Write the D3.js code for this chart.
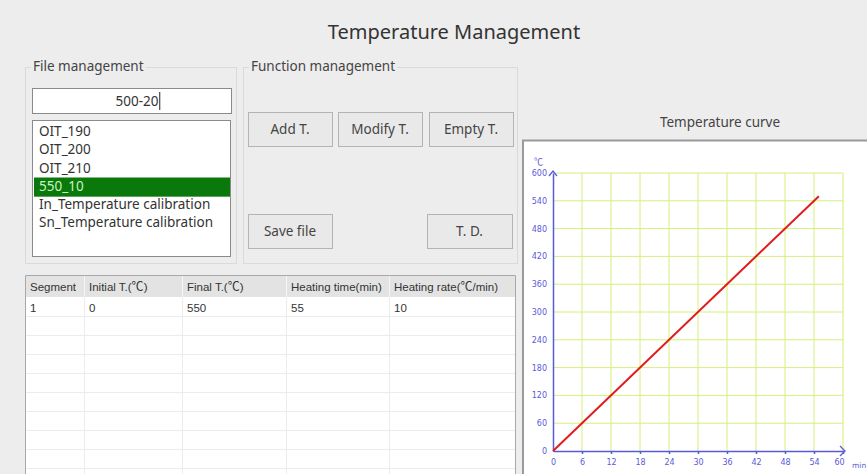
<!DOCTYPE html>
<html>
<head>
<meta charset="utf-8">
<script src="https://cdn.jsdelivr.net/npm/d3@7"></script>
<style>
  body { margin: 0; background: #ededed; }
  svg { display: block; }
</style>
</head>
<body>
<script>
// data
var fileNames = ["OIT_190", "OIT_200", "OIT_210", "550_10", "In_Temperature calibration", "Sn_Temperature calibration"];
var selectedFile = "550_10";
var fileInput = "500-20";
var buttonsTop = ["Add T.", "Modify T.", "Empty T."];
var buttonsBottom = ["Save file", "T. D."];
var tableColumns = ["Segment", "Initial T.(℃)", "Final T.(℃)", "Heating time(min)", "Heating rate(℃/min)"];
var segments = [[1, 0, 550, 55, 10]];
var timeTicks = [0, 6, 12, 18, 24, 30, 36, 42, 48, 54, 60];
var tempTicks = [0, 60, 120, 180, 240, 300, 360, 420, 480, 540, 600];
var curveTime = [0, 55];
var curveTemp = [0, 550];

var uiFont = "'Noto Sans', 'Open Sans', sans-serif";
var tableFont = "'Liberation Sans', Arial, sans-serif";
var cjkFont = "'Noto Sans CJK SC', sans-serif";

var svg = d3.select("body").append("svg")
    .attr("width", 867)
    .attr("height", 474);

svg.append("rect").attr("width", 867).attr("height", 474).attr("fill", "#ededed");

// title
svg.append("text")
    .attr("x", 454).attr("y", 39)
    .attr("text-anchor", "middle")
    .attr("font-family", uiFont)
    .attr("font-size", 20)
    .attr("fill", "#333")
    .text("Temperature Management");

// group boxes
function groupBox(x, y, w, h, label) {
    svg.append("rect")
        .attr("x", x + 0.5).attr("y", y + 0.5)
        .attr("width", w).attr("height", h)
        .attr("fill", "none")
        .attr("stroke", "#dadada");
    var t = svg.append("text")
        .attr("x", x + 8).attr("y", y + 4)
        .attr("font-family", uiFont)
        .attr("font-size", 13.5)
        .attr("fill", "#444")
        .text(label);
    var bb = t.node().getBBox();
    svg.insert("rect", "text:last-of-type")
        .attr("x", bb.x - 2).attr("y", y - 2)
        .attr("width", bb.width + 4).attr("height", 6)
        .attr("fill", "#ededed");
}
groupBox(25, 67, 211, 196, "File management");
groupBox(243, 67, 274, 196, "Function management");

// text input
svg.append("rect")
    .attr("x", 32.5).attr("y", 88.5).attr("width", 199).attr("height", 25)
    .attr("fill", "#fff").attr("stroke", "#8a8a8a");
var inputText = svg.append("text")
    .attr("x", 137).attr("y", 106)
    .attr("text-anchor", "middle")
    .attr("font-family", uiFont)
    .attr("font-size", 13.5)
    .attr("fill", "#333")
    .text(fileInput);
var ib = inputText.node().getBBox();
svg.append("line")
    .attr("x1", ib.x + ib.width + 1).attr("x2", ib.x + ib.width + 1)
    .attr("y1", 92).attr("y2", 110)
    .attr("stroke", "#222");

// list box
svg.append("rect")
    .attr("x", 32.5).attr("y", 120.5).attr("width", 198).attr("height", 136)
    .attr("fill", "#fff").attr("stroke", "#8a8a8a");
var listY = d3.scaleBand().domain(fileNames).range([122, 231]).paddingInner(0);
var items = svg.append("g").selectAll("g").data(fileNames).join("g");
items.filter(function(d) { return d === selectedFile; })
    .append("rect")
    .attr("x", 34).attr("y", function(d) { return listY(d) + 1; })
    .attr("width", 196).attr("height", listY.bandwidth() + 1)
    .attr("fill", "#0a780a");
items.append("text")
    .attr("x", 39)
    .attr("y", function(d) { return listY(d) + listY.bandwidth() - 4; })
    .attr("font-family", uiFont)
    .attr("font-size", 13.5)
    .attr("fill", function(d) { return d === selectedFile ? "#c8f5c0" : "#333"; })
    .text(function(d) { return d; });

// buttons
function button(x, y, w, h, label) {
    var g = svg.append("g");
    g.append("rect")
        .attr("x", x + 0.5).attr("y", y + 0.5).attr("width", w).attr("height", h)
        .attr("fill", "#e9e9e9").attr("stroke", "#b4b4b4");
    g.append("text")
        .attr("x", x + w / 2).attr("y", y + h / 2 + 5)
        .attr("text-anchor", "middle")
        .attr("font-family", uiFont)
        .attr("font-size", 13.5)
        .attr("fill", "#444")
        .text(label);
}
var topX = [248, 338, 429];
buttonsTop.forEach(function(b, i) { button(topX[i], 112, 84, 34, b); });
button(248, 214, 84, 34, buttonsBottom[0]);
button(427, 214, 85, 34, buttonsBottom[1]);

// table
var colX = [25, 84, 182, 286, 389, 515];
var rowH = 19;
var table = svg.append("g");
table.append("rect")
    .attr("x", 25).attr("y", 276).attr("width", 490).attr("height", 210)
    .attr("fill", "#fff");
table.append("rect")
    .attr("x", 25).attr("y", 276).attr("width", 490).attr("height", 21)
    .attr("fill", "#e3e3e3");
var nRows = Math.ceil((474 - 297) / rowH);
for (var r = 1; r <= nRows; r++) {
    table.append("line")
        .attr("x1", 26).attr("x2", 515)
        .attr("y1", 297.5 + r * rowH).attr("y2", 297.5 + r * rowH)
        .attr("stroke", "#ececec");
}
colX.slice(1, -1).forEach(function(cx) {
    table.append("line")
        .attr("x1", cx + 0.5).attr("x2", cx + 0.5)
        .attr("y1", 276).attr("y2", 297)
        .attr("stroke", "#f6f6f6");
    table.append("line")
        .attr("x1", cx + 0.5).attr("x2", cx + 0.5)
        .attr("y1", 297).attr("y2", 474)
        .attr("stroke", "#ececec");
});
table.append("path")
    .attr("d", "M25.5,474V275.5H515.5V474")
    .attr("fill", "none")
    .attr("stroke", "#a8a8a8");

// header labels: the degree sign is a wide glyph in the original
table.selectAll("text.head").data(tableColumns).join("text")
    .attr("class", "head")
    .attr("x", function(d, i) { return colX[i] + 5; })
    .attr("y", 291)
    .attr("font-family", tableFont)
    .attr("font-size", 11.5)
    .attr("fill", "#333")
    .each(function(d) {
        var t = d3.select(this);
        d.split(/(℃)/).forEach(function(part) {
            if (!part) return;
            var s = t.append("tspan").text(part);
            if (part === "℃") s.attr("font-family", cjkFont).attr("font-size", 12);
        });
    });
segments.forEach(function(row, ri) {
    table.selectAll("text.row" + ri).data(row).join("text")
        .attr("class", "row" + ri)
        .attr("x", function(d, i) { return colX[i] + 5; })
        .attr("y", 297 + ri * rowH + 15)
        .attr("font-family", tableFont)
        .attr("font-size", 11.5)
        .attr("fill", "#333")
        .text(function(d) { return d; });
});

// chart panel
svg.append("text")
    .attr("x", 720).attr("y", 127)
    .attr("text-anchor", "middle")
    .attr("font-family", uiFont)
    .attr("font-size", 13.5)
    .attr("fill", "#444")
    .text("Temperature curve");
svg.append("rect")
    .attr("x", 523).attr("y", 140).attr("width", 350).attr("height", 340)
    .attr("fill", "#fff");
svg.append("path")
    .attr("d", "M523,474V140.5H867")
    .attr("fill", "none")
    .attr("stroke", "#9a9a9a")
    .attr("stroke-width", 2);

var x = d3.scaleLinear().domain([0, 60]).range([553, 843]);
var y = d3.scaleLinear().domain([0, 600]).range([451, 173]);
var blue = "#5a5ad8";
var grid = "#d4f07a";
var smallFont = "'DejaVu Sans', Verdana, sans-serif";
var chart = svg.append("g");

chart.selectAll("line.vgrid").data(timeTicks.slice(1)).join("line")
    .attr("class", "vgrid")
    .attr("x1", function(d) { return x(d); }).attr("x2", function(d) { return x(d); })
    .attr("y1", y(0)).attr("y2", y(600))
    .attr("stroke", grid);
chart.selectAll("line.hgrid").data(tempTicks.slice(1)).join("line")
    .attr("class", "hgrid")
    .attr("x1", x(0)).attr("x2", x(60))
    .attr("y1", function(d) { return y(d); }).attr("y2", function(d) { return y(d); })
    .attr("stroke", grid);

var xAxis = chart.append("g")
    .attr("transform", "translate(0," + y(0) + ")")
    .call(d3.axisBottom(x).tickValues(timeTicks).tickSize(3).tickSizeOuter(0).tickPadding(5));
var yAxis = chart.append("g")
    .attr("transform", "translate(" + x(0) + ",0)")
    .call(d3.axisLeft(y).tickValues(tempTicks).tickSize(0).tickPadding(6));
[xAxis, yAxis].forEach(function(a) {
    a.selectAll("path, line").attr("stroke", blue).attr("stroke-width", 1.5);
    a.selectAll("text")
        .attr("fill", blue)
        .attr("font-family", smallFont)
        .attr("font-size", 8);
});
yAxis.selectAll(".tick line").remove();
xAxis.select(".tick line").remove();
xAxis.selectAll(".tick").filter(function(d) { return d === 60; })
    .select("text").attr("dx", -4);

// arrow heads
chart.append("path")
    .attr("d", "M" + (x(0) - 4) + "," + (y(600) + 3) + "L" + x(0) + "," + (y(600) - 2) + "L" + (x(0) + 4) + "," + (y(600) + 3))
    .attr("fill", "none").attr("stroke", blue).attr("stroke-width", 1.3);
chart.append("path")
    .attr("d", "M" + (x(60) - 3) + "," + (y(0) - 5) + "L" + (x(60) + 2) + "," + y(0) + "L" + (x(60) - 3) + "," + (y(0) + 5))
    .attr("fill", "none").attr("stroke", blue).attr("stroke-width", 1.3);

chart.append("text")
    .attr("x", 852).attr("y", 468)
    .attr("font-family", smallFont)
    .attr("font-size", 7.5)
    .attr("fill", blue)
    .text("min");
chart.append("text")
    .attr("x", 534).attr("y", 165)
    .attr("font-family", cjkFont)
    .attr("font-size", 9)
    .attr("fill", blue)
    .text("℃");

var curve = curveTime.map(function(t, i) { return { t: t, v: curveTemp[i] }; });
chart.append("path")
    .datum(curve)
    .attr("d", d3.line().x(function(d) { return x(d.t); }).y(function(d) { return y(d.v); }))
    .attr("fill", "none")
    .attr("stroke", "#e01c1c")
    .attr("stroke-width", 2);
</script>
</body>
</html>
